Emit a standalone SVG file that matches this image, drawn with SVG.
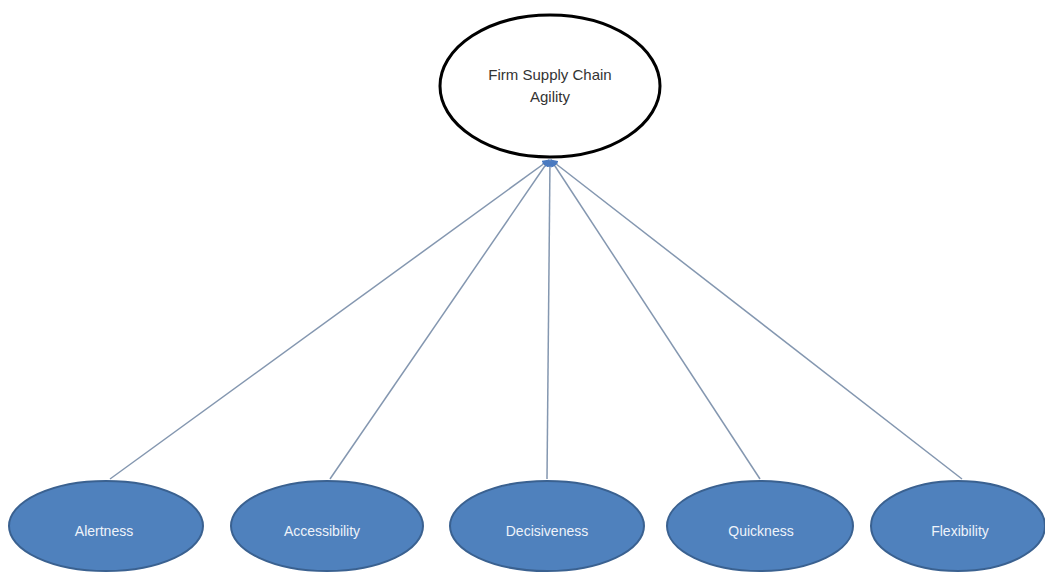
<svg xmlns="http://www.w3.org/2000/svg" width="1045" height="573" viewBox="0 0 1045 573">
  <style>
    .factor { fill: #4f81bd; stroke: #3a6190; stroke-width: 2; }
    .factor-label { font-family: "Liberation Sans", Arial, sans-serif; font-size: 14px; fill: #eef3fa; text-anchor: middle; }
    .goal { fill: #ffffff; stroke: #000000; stroke-width: 3; }
    .goal-label { font-family: "Liberation Sans", Arial, sans-serif; font-size: 15px; fill: #333333; text-anchor: middle; }
    .link { stroke: #8497b0; stroke-width: 1.5; fill: none; marker-end: url(#arrow); }
  </style>
  <defs>
    <marker id="arrow" viewBox="0 0 10 10" refX="9" refY="5" markerWidth="5" markerHeight="5" orient="auto" markerUnits="strokeWidth">
      <path d="M0,0 L10,5 L0,10 z" fill="#4a7ac0"/>
    </marker>
  </defs>
  <rect width="1045" height="573" fill="#ffffff"/>

  <!-- connectors: each dimension points to the agility construct -->
  <g id="connectors">
    <line class="link" x1="110" y1="479" x2="549" y2="160"/>
    <line class="link" x1="330" y1="479" x2="549" y2="160"/>
    <line class="link" x1="547" y1="479" x2="550" y2="160"/>
    <line class="link" x1="760" y1="479" x2="551" y2="160"/>
    <line class="link" x1="962" y1="479" x2="551" y2="160"/>
  </g>

  <g id="agility">
    <ellipse class="goal" cx="550" cy="86" rx="110" ry="71"/>
    <text class="goal-label" x="550" y="80">Firm Supply Chain</text>
    <text class="goal-label" x="550" y="102">Agility</text>
  </g>

  <g id="alertness">
    <ellipse class="factor" cx="106" cy="526" rx="97" ry="45"/>
    <text class="factor-label" x="104" y="536">Alertness</text>
  </g>
  <g id="accessibility">
    <ellipse class="factor" cx="327" cy="526" rx="96" ry="45"/>
    <text class="factor-label" x="322" y="536">Accessibility</text>
  </g>
  <g id="decisiveness">
    <ellipse class="factor" cx="547" cy="526" rx="97" ry="45"/>
    <text class="factor-label" x="547" y="536">Decisiveness</text>
  </g>
  <g id="quickness">
    <ellipse class="factor" cx="760" cy="526" rx="93" ry="45"/>
    <text class="factor-label" x="761" y="536">Quickness</text>
  </g>
  <g id="flexibility">
    <ellipse class="factor" cx="958" cy="526" rx="87" ry="45"/>
    <text class="factor-label" x="960" y="536">Flexibility</text>
  </g>
</svg>
